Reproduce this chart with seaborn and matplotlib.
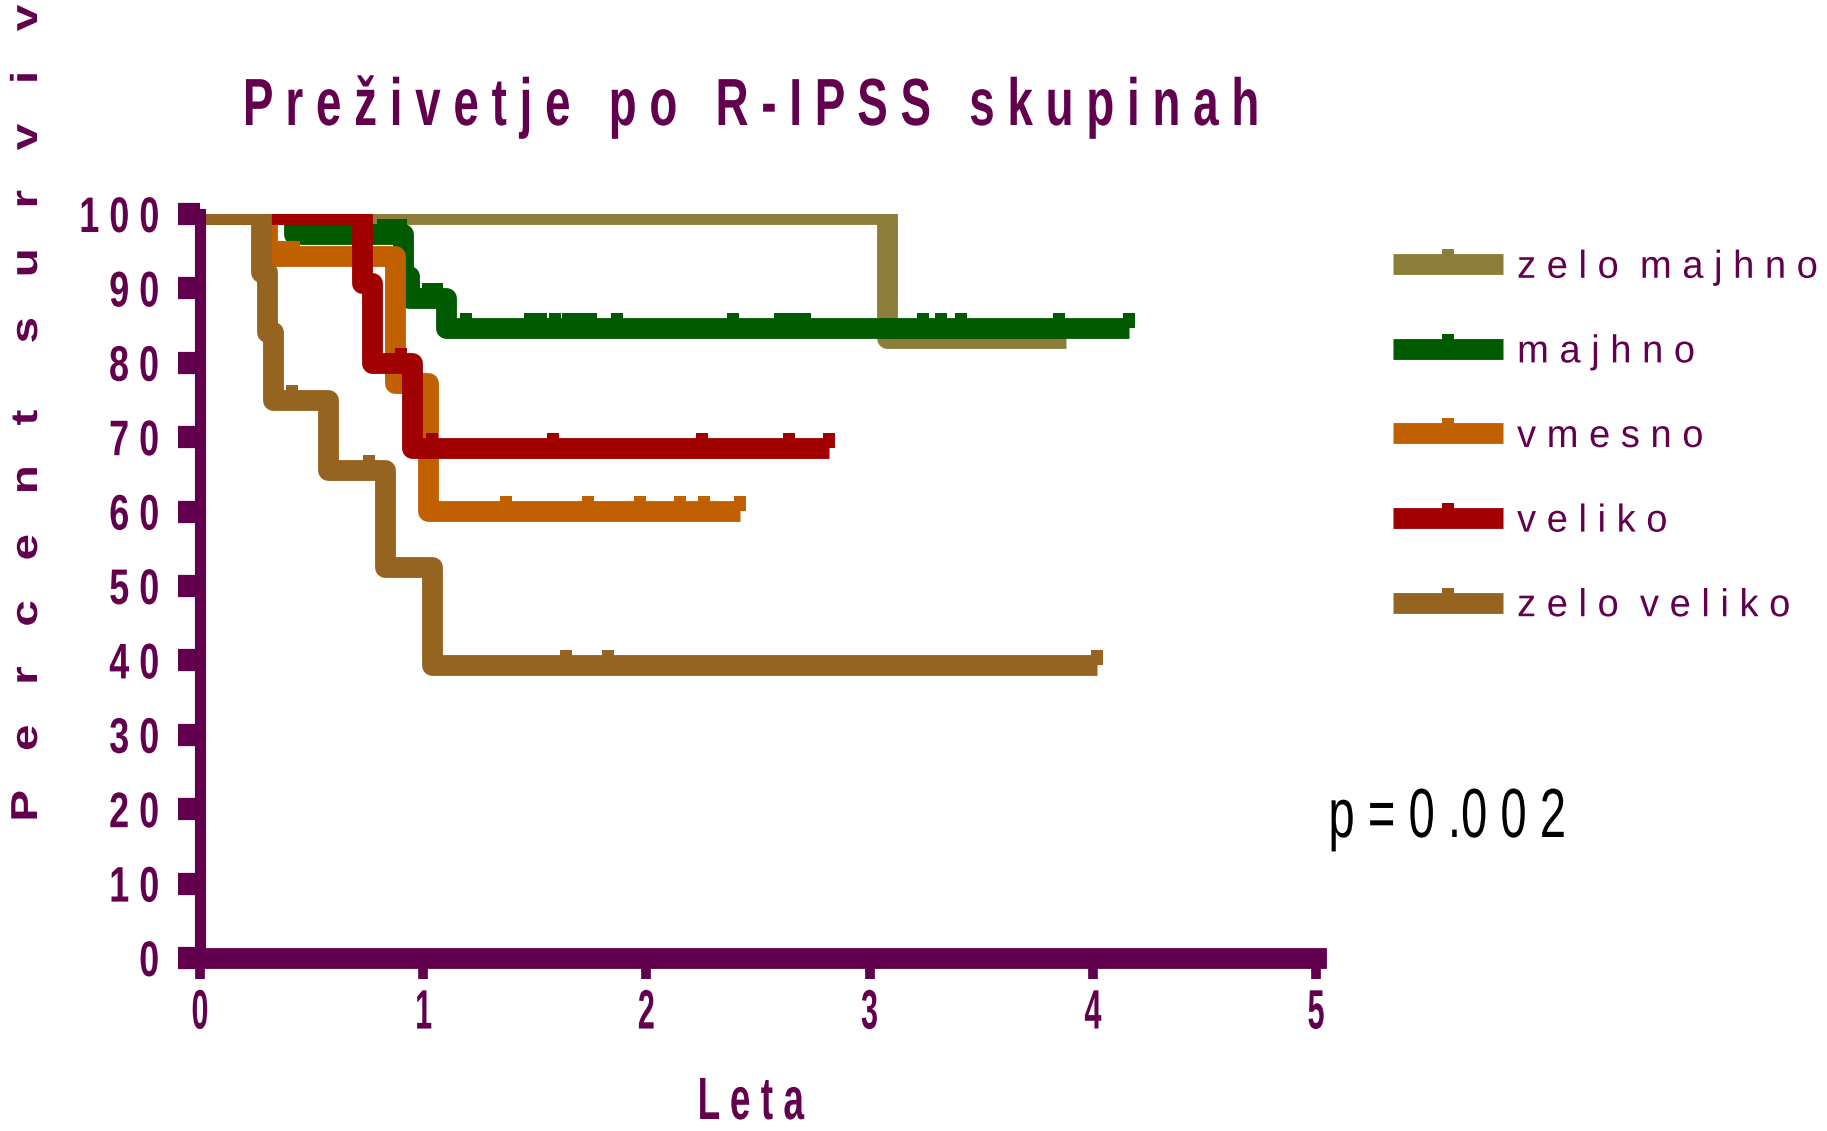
import numpy as np
import pandas as pd
import matplotlib
matplotlib.use("Agg")
import matplotlib.pyplot as plt
import seaborn as sns
from matplotlib.patheffects import AbstractPathEffect
from matplotlib.transforms import Affine2D
from matplotlib.path import Path
from matplotlib.lines import Line2D

# ---------------- data ----------------
groups = ["zelo majhno", "majhno", "vmesno", "veliko", "zelo veliko"]
legend_labels = ["z e l o  m a j h n o", "m a j h n o", "v m e s n o",
                 "v e l i k o", "z e l o  v e l i k o"]
colors = ["#8C7E3A", "#005A00", "#C06000", "#A00000", "#956420"]

# step times (years) and survival (%) after each step; last entry = end of follow-up
zm_time = [0.0, 3.08, 3.88]
zm_surv = [100.0, 83.3, 83.3]
m_time = [0.0, 0.42, 0.91, 0.935, 1.10, 4.16]
m_surv = [100.0, 97.3, 91.6, 88.7, 84.7, 84.7]
vm_time = [0.0, 0.30, 0.875, 1.02, 2.42]
vm_surv = [100.0, 94.4, 77.3, 60.1, 60.1]
v_time = [0.0, 0.726, 0.77, 0.95, 2.82]
v_surv = [100.0, 90.7, 80.0, 68.5, 68.5]
zv_time = [0.0, 0.275, 0.30, 0.326, 0.575, 0.83, 1.04, 4.02]
zv_surv = [100.0, 92.2, 84.2, 75.0, 65.6, 52.6, 39.4, 39.4]

# censored observations (years)
zm_cens = [1.11, 1.19, 1.76, 1.86, 1.90, 1.94, 1.97, 2.21, 2.36, 2.67, 2.95,
           3.52, 3.83, 3.88]
m_cens = [0.46, 0.50, 0.54, 0.57, 0.61, 0.66, 0.82, 0.86, 0.90, 0.96, 1.02,
          1.06, 1.19, 1.48, 1.50, 1.53, 1.59, 1.65, 1.70, 1.75, 1.87, 2.39,
          2.60, 2.63, 2.68, 2.71, 3.24, 3.32, 3.41, 3.85, 4.16]
vm_cens = [0.33, 0.37, 0.42, 1.37, 1.74, 1.97, 2.15, 2.26, 2.42]
v_cens = [0.90, 1.04, 1.58, 2.25, 2.64, 2.82]
zv_cens = [0.41, 0.755, 1.64, 1.83, 4.02]

x_ticks = [0, 1, 2, 3, 4, 5]
x_ticklabels = ["0", "1", "2", "3", "4", "5"]
y_ticks = [0, 10, 20, 30, 40, 50, 60, 70, 80, 90, 100]
y_ticklabels = ["0", "1 0", "2 0", "3 0", "4 0", "5 0", "6 0", "7 0", "8 0",
                "9 0", "1 0 0"]

title_text = "P r e ž i v e t j e   p o   R - I P S S   s k u p i n a h"
xlabel_text = "L e t a"
ylabel_text = "P   e   r   c   e   n   t     s   u   r   v   i   v   a   l"
p_text = "p = 0 .0 0 2"

times = [zm_time, m_time, vm_time, v_time, zv_time]
survs = [zm_surv, m_surv, vm_surv, v_surv, zv_surv]
cens = [zm_cens, m_cens, vm_cens, v_cens, zv_cens]

# ---------------- helpers ----------------
PURPLE = "#62004E"


class Stretch(AbstractPathEffect):
    """Horizontally scale a text path in its own frame (condensed / spaced look)."""

    def __init__(self, sx=1.0, anchor="center"):
        super().__init__()
        self.sx = sx
        self.anchor = anchor

    def draw_path(self, renderer, gc, tpath, affine, rgbFace=None):
        ext = tpath.get_extents()
        if self.anchor == "left":
            cx = ext.x0
        elif self.anchor == "right":
            cx = ext.x1
        else:
            cx = 0.5 * (ext.x0 + ext.x1)
        t = Affine2D().translate(-cx, 0).scale(self.sx, 1.0).translate(cx, 0) + affine
        renderer.draw_path(gc, tpath, t, rgbFace)


bump = Path([(-0.38, 0.0), (0.38, 0.0), (0.38, 1.0), (-0.38, 1.0), (-0.38, 0.0)],
            [Path.MOVETO, Path.LINETO, Path.LINETO, Path.LINETO, Path.CLOSEPOLY])


def step_value(t_list, s_list, x):
    idx = np.searchsorted(np.asarray(t_list), x, side="right") - 1
    return s_list[max(idx, 0)]


# ---------------- figure ----------------
sns.set_style("white")
plt.rcParams["font.family"] = ["Liberation Sans", "DejaVu Sans"]

W, H = 1827, 1131
fig = plt.figure(figsize=(W / 100, H / 100), dpi=100)
fig.patch.set_facecolor("white")
ax = fig.add_axes([200 / W, 1 - 958 / H, (1316 - 200) / W, (958 - 214) / H])

rows = []
for g, t, s in zip(groups, times, survs):
    for ti, si in zip(t, s):
        rows.append({"grupa": g, "t": ti, "s": si})
df = pd.DataFrame(rows)

sns.lineplot(data=df, x="t", y="s", hue="grupa", hue_order=groups,
             palette=dict(zip(groups, colors)), drawstyle="steps-post",
             estimator=None, sort=False, linewidth=15, legend=False, ax=ax)

for i, ln in enumerate(ax.get_lines()):
    ln.set_zorder(2 + i * 0.1)
    ln.set_solid_joinstyle("round")
    ln.set_solid_capstyle("butt")

for i, (g, c) in enumerate(zip(groups, colors)):
    cy = [step_value(times[i], survs[i], x) for x in cens[i]]
    ax.plot(cens[i], cy, ls="none", marker=bump, ms=21, mew=0, color=c,
            zorder=2.05 + i * 0.1)

ax.set_xlim(0, 5)
ax.set_ylim(0, 100)
ax.set_xticks(x_ticks, labels=x_ticklabels)
ax.set_yticks(y_ticks, labels=y_ticklabels)

for side in ["top", "right"]:
    ax.spines[side].set_visible(False)
ax.spines["left"].set_linewidth(8)
ax.spines["bottom"].set_linewidth(15)
for side in ["left", "bottom"]:
    ax.spines[side].set_color(PURPLE)
    ax.spines[side].set_zorder(3)

ax.tick_params(axis="y", direction="out", length=16, width=16, color=PURPLE,
               pad=13, labelsize=36, labelcolor=PURPLE, left=True)
ax.tick_params(axis="x", direction="out", length=15, width=7, color=PURPLE,
               pad=7, labelsize=40, labelcolor=PURPLE, bottom=True)
for lbl in ax.get_yticklabels():
    lbl.set_fontweight("bold")
    lbl.set_path_effects([Stretch(0.72, "right")])
for lbl in ax.get_xticklabels():
    lbl.set_fontweight("bold")
    lbl.set_path_effects([Stretch(0.55, "center")])

# axis labels
ax.set_xlabel(xlabel_text, fontsize=43, fontweight="bold", color=PURPLE)
ax.xaxis.set_label_coords(750 / W, 1 - 1119 / H, transform=fig.transFigure)
ax.xaxis.label.set_verticalalignment("baseline")
ax.xaxis.label.set_path_effects([Stretch(0.62, "center")])

ax.set_ylabel(ylabel_text, fontsize=27, fontweight="bold", color=PURPLE)
ax.yaxis.set_label_coords(37 / W, 1 - 821 / H, transform=fig.transFigure)
ax.yaxis.label.set_horizontalalignment("left")
ax.yaxis.label.set_verticalalignment("baseline")
ax.yaxis.label.set_path_effects([Stretch(1.27, "left")])

# title
st = fig.suptitle(title_text, x=750 / W, y=1 - 125 / H, ha="center",
                  va="baseline", fontsize=48, fontweight="bold", color=PURPLE)
st.set_path_effects([Stretch(0.687, "center")])

# p value
pt = fig.text(1327 / W, 1 - 837 / H, p_text, ha="left", va="baseline",
              fontsize=50, color="black")
pt.set_path_effects([Stretch(0.68, "left")])

# legend
handles = [Line2D([0], [0], color=c, lw=15, marker=bump, ms=21, mew=0,
                  solid_capstyle="butt") for c in colors]
leg = ax.legend(handles, legend_labels, loc="center left",
                bbox_to_anchor=(1393 / W, 1 - 437 / H),
                bbox_transform=fig.transFigure, frameon=False, fontsize=28,
                handlelength=2.83, handletextpad=0.36, labelspacing=1.25,
                borderpad=0, borderaxespad=0, numpoints=1)
for txt in leg.get_texts():
    txt.set_color(PURPLE)
    txt.set_path_effects([Stretch(0.98, "left")])

fig.savefig("out.png", dpi=100, facecolor="white")
